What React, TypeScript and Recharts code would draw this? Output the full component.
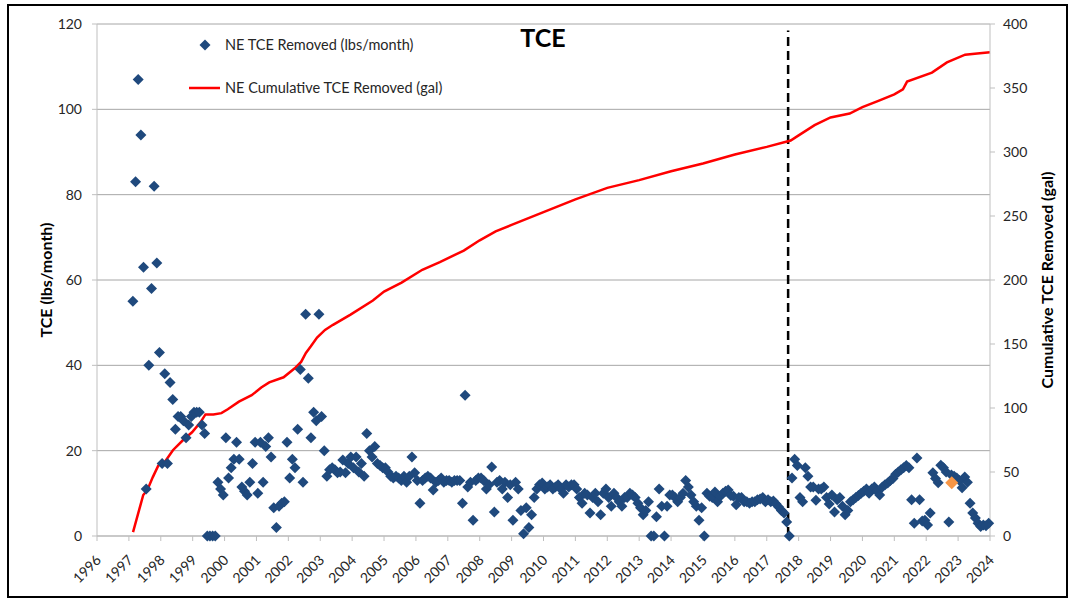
import { ComposedChart, Scatter, Line, XAxis, YAxis, CartesianGrid, ReferenceLine } from 'recharts';

// monthly TCE removed (lbs/month), Jan..Dec, null = no reading
const tce1997 = [null, 55, 83, 107, 94, 63, 11, 40, 58, 82, 64, 43];
const tce1998 = [17, 38, 17, 36, 32, 25, 28, 28, 27, 23, 26, 28];
const tce1999 = [29, 29, 29, 26, 24, 0, 0, 0, 0, 12.6, 11, 9.6];
const tce2000 = [23, 13.6, 16, 18, 22, 18, 11.5, 10.5, 9.6, 12.6, 17, 22];
const tce2001 = [10, 22, 12.6, 21, 23, 18.5, 6.6, 2, 7, 7.7, 8, 22];
const tce2002 = [13.6, 18, 16, 25, 39, 12.6, 52, 37, 23, 29, 27, 52];
const tce2003 = [28, 20, 14, 15.5, 16, 15.5, 14.8, 15, 17.8, 14.8, 17, 18.5];
const tce2004 = [16, 18.5, 15, 17, 14, 24, 20, 18.5, 21, 17, 16.5, 16];
const tce2005 = [16, 15, 14, 13.6, 14, 13.6, 13, 14, 12.6, 14, 18.5, 14.8];
const tce2006 = [13, 7.7, 13, 13.6, 14, 13.6, 10.8, 12.6, 13, 13.6, 12.6, 13];
const tce2007 = [13, 12.6, 13, 13, 13, 7.7, 33, 11.5, 12.6, 3.7, 13, 13.6];
const tce2008 = [13.6, 13, 11, 12, 16.2, 5.6, 12.6, 13, 11, 12.6, 9, 12];
const tce2009 = [3.7, 12.6, 11, 6, 0.5, 6.6, 2, 5, 9, 11, 12, 12.4];
const tce2010 = [11, 11.5, 12, 11, 11.5, 12, 11, 10, 12, 11.5, 12, 12];
const tce2011 = [11, 9, 7.7, 10, 9.6, 5.4, 9, 10, 8, 5, 10, 11];
const tce2012 = [9, 7, 10, 9, 8, 7, 9, 9, 10, 9.6, 9, 7.7];
const tce2013 = [6.6, 5, 6, 8, 0, 0, 4.5, 11, 7, 0, 7, 9.6];
const tce2014 = [9.6, 9, 8, 9, 10, 13, 11.5, 9.6, 8, 7, 3.7, 6.6];
const tce2015 = [0, 10, 9.3, 9, 10.3, 8, 9.3, 10, 10.5, 10.8, 9.5, 9.3];
const tce2016 = [7.3, 9, 9, 8, 8, 7.7, 8, 8, 8.5, 8.7, 9, 8];
const tce2017 = [8.5, 8, 8.2, 7.5, 6.8, 6, 5.4, 3.3, 0, 13.6, 18, 16.5];
const tce2018 = [9, 8, 16, 14, 11.5, 11.5, 8.4, 11, 11, 11.5, 9, 7.5];
const tce2019 = [9.6, 5.6, 8.5, 9, 7, 5, 6, 8, 8.5, 9, 9.5, 10];
const tce2020 = [10.5, 11, 10, 11, 11.5, 10.5, 9.6, 11.5, 12, 12.4, 13, 13.5];
const tce2021 = [14.5, 15, 15.5, 16, 16.5, 16, 8.5, 3, 18.3, 8.5, 3.5, 3.7];
const tce2022 = [2.6, 5.4, 14.8, 13.5, 12.5, 16.6, 16, 15, 3.3, 14.3, 14, 13.6];
const tce2023 = [13, 11.3, 13.8, 12.6, 7.7, 5.4, 4.2, 3, 2.2, 2.6, 2.4, 3];

const tceYears = [1997, 1998, 1999, 2000, 2001, 2002, 2003, 2004, 2005, 2006, 2007, 2008, 2009, 2010,
  2011, 2012, 2013, 2014, 2015, 2016, 2017, 2018, 2019, 2020, 2021, 2022, 2023];
const tceMonthly = [tce1997, tce1998, tce1999, tce2000, tce2001, tce2002, tce2003, tce2004, tce2005,
  tce2006, tce2007, tce2008, tce2009, tce2010, tce2011, tce2012, tce2013, tce2014, tce2015, tce2016,
  tce2017, tce2018, tce2019, tce2020, tce2021, tce2022, tce2023];

// highlighted (orange) reading
const highlightDate = [2022.8];
const highlightValue = [12.5];

// cumulative TCE removed (gal)
const cumDates = [1997.13, 1997.35, 1997.45, 1997.58, 1997.75, 1997.92, 1998.13, 1998.38, 1998.7, 1998.98,
  1999.25, 1999.4, 1999.65, 1999.9, 2000.1, 2000.45, 2000.85, 2001.15, 2001.4, 2001.85, 2002.2, 2002.4,
  2002.55, 2002.7, 2002.9, 2003.15, 2003.4, 2003.95, 2004.65, 2005.0, 2005.55, 2006.2, 2006.75, 2007.5,
  2008.0, 2008.5, 2009.0, 2010.0, 2011.0, 2012.0, 2013.0, 2014.0, 2015.0, 2016.0, 2017.0, 2017.75, 2018.0,
  2018.5, 2019.0, 2019.6, 2020.0, 2020.5, 2021.0, 2021.27, 2021.4, 2022.18, 2022.65, 2023.22, 2023.6, 2024.0];
const cumGal = [3, 23, 32, 36, 46, 55, 58, 67, 75, 81,
  89, 95, 95, 96, 99, 105, 110, 116, 120, 124, 131, 136,
  143, 148, 155, 161, 165, 173, 184, 191, 198, 208, 214, 223,
  231, 238, 243, 253, 263, 272, 278, 285, 291, 298, 304, 309, 313,
  321, 327, 330, 335, 340, 345, 349, 355, 362, 370, 376, 377, 378];

const yearTicks = [1996, 1997, 1998, 1999, 2000, 2001, 2002, 2003, 2004, 2005, 2006, 2007, 2008, 2009, 2010,
  2011, 2012, 2013, 2014, 2015, 2016, 2017, 2018, 2019, 2020, 2021, 2022, 2023, 2024];
const leftTicks = [0, 20, 40, 60, 80, 100, 120];
const rightTicks = [0, 50, 100, 150, 200, 250, 300, 350, 400];
const dividerYear = 2017.67;

const FONT = "Lato, 'Noto Sans', sans-serif";
const BLUE = '#1F497D';
const ORANGE = '#F79646';
const AXIS = '#BFBFBF';

const removedData = tceYears.flatMap((yr, i) =>
  tceMonthly[i]
    .map((v, m) => (v === null ? null : { x: yr + (m + 0.5) / 12, y: v }))
    .filter((p): p is { x: number; y: number } => p !== null)
);
const highlightData = highlightDate.map((d, i) => ({ x: d, y: highlightValue[i] }));
const cumData = cumDates.map((d, i) => ({ x: d, y: cumGal[i] }));

const Diamond = (props: any) => {
  const { cx, cy, fill, size = 5 } = props;
  if (cx == null || cy == null) return null;
  return (
    <polygon
      points={`${cx},${cy - size} ${cx + size},${cy} ${cx},${cy + size} ${cx - size},${cy}`}
      fill={fill}
    />
  );
};

const YearTick = (props: any) => {
  const { x, y, payload } = props;
  const ax = x + 5;
  const ay = y + 18;
  return (
    <text x={ax} y={ay} textAnchor="end" transform={`rotate(-45 ${ax} ${ay})`} fontSize={14} fill="#262626" fontFamily={FONT}>
      {payload.value}
    </text>
  );
};

export default function App() {
  return (
    <div style={{ position: 'absolute', left: 0, top: 0, width: 1070, height: 602, background: '#fff', fontFamily: FONT }}>
      <div style={{ position: 'absolute', left: 0, top: 0 }}>
        <ComposedChart width={1070} height={602} margin={{ top: 24, right: 20, bottom: 26, left: 37 }}>
          <CartesianGrid yAxisId="left" vertical={false} stroke="#A6A6A6" />
          <XAxis
            dataKey="x"
            type="number"
            domain={[1996, 2024]}
            ticks={yearTicks}
            interval={0}
            height={40}
            tickSize={5}
            stroke={AXIS}
            tick={<YearTick />}
          />
          <YAxis
            yAxisId="left"
            domain={[0, 120]}
            ticks={leftTicks}
            width={60}
            tickSize={5}
            tickMargin={10}
            stroke={AXIS}
            tick={{ fill: '#262626', fontSize: 14, fontFamily: FONT }}
          />
          <YAxis
            yAxisId="right"
            orientation="right"
            domain={[0, 400]}
            ticks={rightTicks}
            width={60}
            tickSize={5}
            tickMargin={8}
            stroke={AXIS}
            tick={{ fill: '#262626', fontSize: 14, fontFamily: FONT }}
          />
          <ReferenceLine
            yAxisId="left"
            segment={[{ x: dividerYear, y: 0 }, { x: dividerYear, y: 118.5 }]}
            stroke="#000"
            strokeWidth={2.5}
            strokeDasharray="9 5"
          />
          <Scatter
            yAxisId="left"
            data={removedData}
            dataKey="y"
            fill={BLUE}
            shape={<Diamond size={5.5} />}
            isAnimationActive={false}
          />
          <Scatter
            yAxisId="left"
            data={highlightData}
            dataKey="y"
            fill={ORANGE}
            shape={<Diamond size={6.5} />}
            isAnimationActive={false}
          />
          <Line
            yAxisId="right"
            data={cumData}
            dataKey="y"
            type="linear"
            stroke="#FF0000"
            strokeWidth={2.5}
            dot={false}
            isAnimationActive={false}
          />
        </ComposedChart>
      </div>

      <div style={{ position: 'absolute', left: 7, top: 4, width: 1061, height: 594, border: '2.5px solid #000', boxSizing: 'border-box', pointerEvents: 'none' }} />

      <div style={{ position: 'absolute', left: 543, top: 23, transform: 'translateX(-50%)', fontSize: 25, fontWeight: 700, lineHeight: '28px', color: '#000' }}>
        TCE
      </div>

      <svg style={{ position: 'absolute', left: 185, top: 35 }} width={40} height={60}>
        <polygon points="20,4.5 25.5,10 20,15.5 14.5,10" fill={BLUE} />
        <line x1={4} y1={53} x2={35} y2={53} stroke="#FF0000" strokeWidth={2.5} />
      </svg>
      <div style={{ position: 'absolute', left: 225, top: 36, fontSize: 14.5, lineHeight: '18px', color: '#262626', whiteSpace: 'nowrap' }}>
        NE TCE Removed (lbs/month)
      </div>
      <div style={{ position: 'absolute', left: 225, top: 79, fontSize: 14.5, lineHeight: '18px', color: '#262626', whiteSpace: 'nowrap' }}>
        NE Cumulative TCE Removed (gal)
      </div>

      <div style={{ position: 'absolute', left: 45, top: 280, transform: 'translate(-50%, -50%) rotate(-90deg)', fontSize: 16, fontWeight: 700, whiteSpace: 'nowrap', color: '#000' }}>
        TCE (lbs/month)
      </div>
      <div style={{ position: 'absolute', left: 1046, top: 280, transform: 'translate(-50%, -50%) rotate(-90deg)', fontSize: 16, fontWeight: 700, whiteSpace: 'nowrap', color: '#000' }}>
        Cumulative TCE Removed (gal)
      </div>
    </div>
  );
}
